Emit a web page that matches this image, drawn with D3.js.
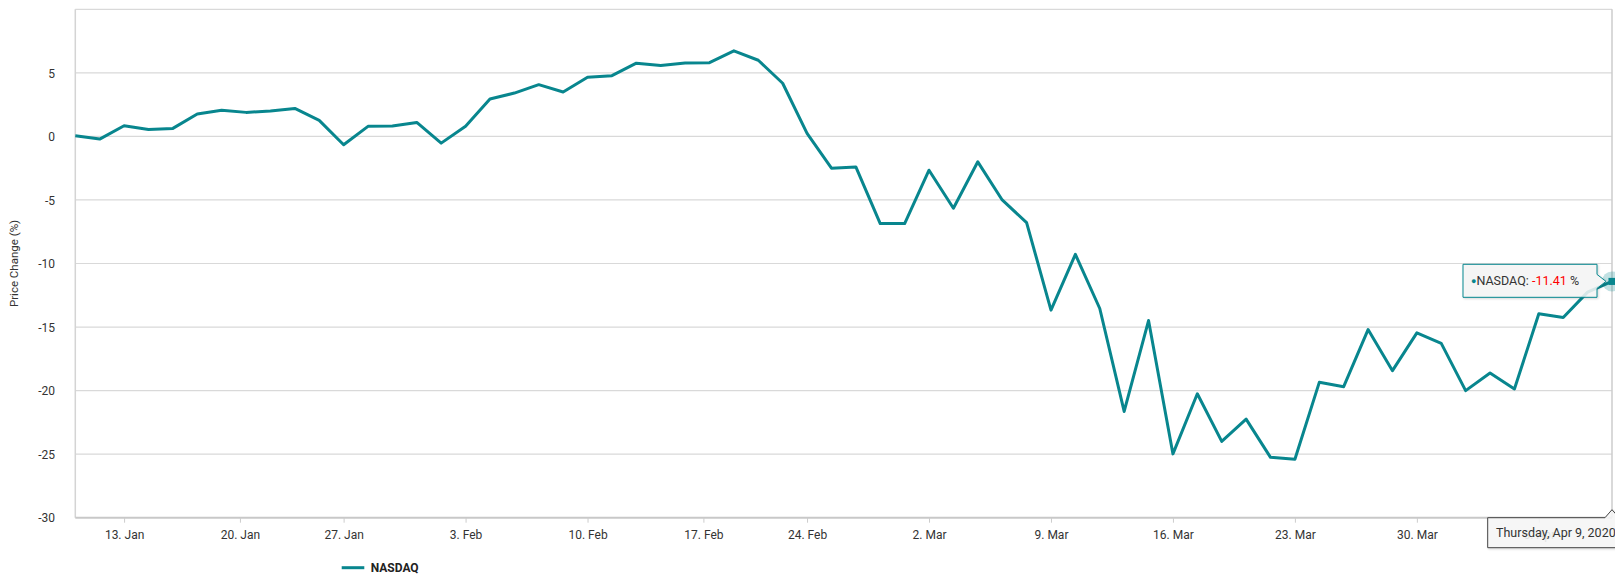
<!DOCTYPE html>
<html>
<head>
<meta charset="utf-8">
<script src="https://cdn.jsdelivr.net/npm/d3@7"></script>
<style>
  html, body { margin: 0; padding: 0; background: #fff; }
  svg { display: block; font-family: Roboto, "Noto Sans", Arial, sans-serif; }
</style>
</head>
<body>
<svg id="chart" width="1615" height="585"></svg>
<script>
// ---- data ----
const seriesName = "NASDAQ";
const tradingDates = [
  "2020-01-09","2020-01-10",
  "2020-01-13","2020-01-14","2020-01-15","2020-01-16","2020-01-17",
  "2020-01-21","2020-01-22","2020-01-23","2020-01-24",
  "2020-01-27","2020-01-28","2020-01-29","2020-01-30","2020-01-31",
  "2020-02-03","2020-02-04","2020-02-05","2020-02-06","2020-02-07",
  "2020-02-10","2020-02-11","2020-02-12","2020-02-13","2020-02-14",
  "2020-02-18","2020-02-19","2020-02-20","2020-02-21",
  "2020-02-24","2020-02-25","2020-02-26","2020-02-27","2020-02-28",
  "2020-03-02","2020-03-03","2020-03-04","2020-03-05","2020-03-06",
  "2020-03-09","2020-03-10","2020-03-11","2020-03-12","2020-03-13",
  "2020-03-16","2020-03-17","2020-03-18","2020-03-19","2020-03-20",
  "2020-03-23","2020-03-24","2020-03-25","2020-03-26","2020-03-27",
  "2020-03-30","2020-03-31","2020-04-01","2020-04-02","2020-04-03",
  "2020-04-06","2020-04-07","2020-04-08","2020-04-09"
];
const priceChange = [
  0.05, -0.21,
  0.84, 0.55, 0.63, 1.76, 2.05,
  1.89, 2.00, 2.20, 1.26,
  -0.66, 0.79, 0.81, 1.10, -0.53,
  0.79, 2.94, 3.41, 4.07, 3.49,
  4.65, 4.78, 5.76, 5.57, 5.78,
  5.80, 6.73, 5.99, 4.18,
  0.24, -2.50, -2.40, -6.86, -6.86,
  -2.66, -5.65, -2.00, -5.00, -6.78,
  -13.67, -9.28, -13.54, -21.64, -14.49,
  -24.98, -20.25, -24.00, -22.24, -25.25,
  -25.40, -19.35, -19.69, -15.20, -18.43,
  -15.46, -16.28, -20.00, -18.61, -19.87,
  -13.96, -14.25, -12.25, -11.41
];
const xTickDates = ["2020-01-13","2020-01-20","2020-01-27","2020-02-03","2020-02-10","2020-02-17",
  "2020-02-24","2020-03-02","2020-03-09","2020-03-16","2020-03-23","2020-03-30","2020-04-06"];
const xTickLabels = ["13. Jan","20. Jan","27. Jan","3. Feb","10. Feb","17. Feb",
  "24. Feb","2. Mar","9. Mar","16. Mar","23. Mar","30. Mar","6. Apr"];
const yTicks = [-30, -25, -20, -15, -10, -5, 0, 5];
const yGrid = [-25, -20, -15, -10, -5, 0, 5, 10];
const yDomain = [-30, 10];
const yTitle = "Price Change (%)";

// ---- layout ----
const plot = { left: 75.3, right: 1612, top: 9.3, bottom: 517.7 };
const teal = "#08868e";
const svg = d3.select("#chart");

const parse = d3.timeParse("%Y-%m-%d");
const dates = tradingDates.map(parse);
const data = dates.map((d, i) => ({ date: d, idx: i, value: priceChange[i] }));

const x = d3.scaleLinear().domain([0, dates.length - 1]).range([plot.left, plot.right]);
const y = d3.scaleLinear().domain(yDomain).range([plot.bottom, plot.top]);

// ordinal position of any date (interpolated between trading days)
function ordinalIndex(dt) {
  const t = dt.getTime();
  for (let i = 0; i < dates.length - 1; i++) {
    const a = dates[i].getTime(), b = dates[i + 1].getTime();
    if (t >= a && t <= b) return i + (t - a) / (b - a);
  }
  return dates.length - 1;
}
const tickIdx = xTickDates.map(s => ordinalIndex(parse(s)));
const hyphen = s => String(s).replace(/\u2212/g, "-");

// grid lines
svg.append("g").selectAll("line").data(yGrid).join("line")
  .attr("x1", plot.left).attr("x2", plot.right)
  .attr("y1", d => y(d)).attr("y2", d => y(d))
  .attr("stroke", "#d9d9d9").attr("stroke-width", 1.2);

// left border
svg.append("line").attr("x1", plot.left).attr("x2", plot.left)
  .attr("y1", plot.top).attr("y2", plot.bottom)
  .attr("stroke", "#d4d4d4").attr("stroke-width", 1.5);

// y axis labels
const yAxis = d3.axisLeft(y).tickValues(yTicks).tickSize(0).tickPadding(0)
  .tickFormat(d => hyphen(d3.format("d")(d)));
const gy = svg.append("g").attr("transform", `translate(55,0)`).call(yAxis);
gy.select(".domain").remove();
gy.selectAll("text").attr("font-size", 12).attr("fill", "#333")
  .attr("font-family", "Roboto, sans-serif").attr("dy", "0.35em");

// y title
svg.append("text")
  .attr("transform", `translate(18,${(plot.top + plot.bottom) / 2}) rotate(-90)`)
  .attr("text-anchor", "middle").attr("font-size", 11.5).attr("fill", "#333")
  .text(yTitle);

// x axis
const xAxis = d3.axisBottom(x).tickValues(tickIdx).tickSize(5).tickPadding(8)
  .tickFormat((d, i) => xTickLabels[i]);
const gx = svg.append("g").attr("transform", `translate(0,${plot.bottom})`).call(xAxis);
gx.select(".domain").attr("d", `M${plot.left},0H${plot.right}`)
  .attr("stroke", "#c8c8c8").attr("stroke-width", 2);
gx.selectAll(".tick line").attr("stroke", "#cccccc");
gx.selectAll("text").attr("font-size", 12).attr("fill", "#333")
  .attr("font-family", "Roboto, sans-serif");

// crosshair at hovered point
const last = data[data.length - 1];
svg.append("line").attr("x1", x(last.idx)).attr("x2", x(last.idx))
  .attr("y1", plot.top).attr("y2", plot.bottom)
  .attr("stroke", "#cccccc").attr("stroke-width", 1.5);

// line
const line = d3.line().x(d => x(d.idx)).y(d => y(d.value));
svg.append("path").datum(data).attr("d", line)
  .attr("fill", "none").attr("stroke", teal).attr("stroke-width", 3)
  .attr("stroke-linejoin", "round");

// hover halo + marker
const px = x(last.idx), py = y(last.value);
svg.append("circle").attr("cx", px).attr("cy", py).attr("r", 10)
  .attr("fill", teal).attr("fill-opacity", 0.25);
svg.append("path").attr("d", d3.symbol(d3.symbolSquare, 50)())
  .attr("transform", `translate(${px},${py})`).attr("fill", teal);

// top tooltip
const tt = { l: 1463, r: 1597, t: 264.3, b: 297.3 };
const defs = svg.append("defs");
const f = defs.append("filter").attr("id", "shadow").attr("x", "-10%").attr("y", "-10%")
  .attr("width", "130%").attr("height", "150%");
f.append("feDropShadow").attr("dx", 1).attr("dy", 1).attr("stdDeviation", 1)
  .attr("flood-color", "#000").attr("flood-opacity", 0.18);

svg.append("path")
  .attr("d", `M${tt.l},${tt.t}H${tt.r}V${py - 7}L${px - 6},${py}L${tt.r},${py + 7}V${tt.b}H${tt.l}Z`)
  .attr("fill", "#f7f7f7").attr("fill-opacity", 0.85)
  .attr("stroke", teal).attr("stroke-width", 1).attr("filter", "url(#shadow)");
const ttText = svg.append("text").attr("x", 1471).attr("y", 284.5)
  .attr("font-size", 12.5).attr("fill", "#333");
ttText.append("tspan").attr("fill", teal).attr("font-size", 9).attr("dy", -1).text("●");
ttText.append("tspan").attr("dy", 1).text(seriesName + ": ");
ttText.append("tspan").attr("fill", "#ff0000").text(hyphen(d3.format(".2f")(last.value)));
ttText.append("tspan").text(" %");

// bottom crosshair date label
const bt = { l: 1487.7, t: plot.bottom, b: 547.7 };
svg.append("path")
  .attr("d", `M${bt.l},${bt.t}H${px - 7}L${px},${bt.t - 8}L${px + 7},${bt.t}H1640V${bt.b}H${bt.l}Z`)
  .attr("fill", "#f7f7f7").attr("fill-opacity", 0.88)
  .attr("stroke", "#444").attr("stroke-width", 1).attr("filter", "url(#shadow)");
svg.append("text").attr("x", 1496).attr("y", 536.5)
  .attr("font-size", 12.5).attr("fill", "#333")
  .text(d3.timeFormat("%A, %b %-d, %Y")(last.date));

// legend
svg.append("line").attr("x1", 341.7).attr("x2", 364.3).attr("y1", 567.7).attr("y2", 567.7)
  .attr("stroke", teal).attr("stroke-width", 3);
svg.append("text").attr("x", 370.7).attr("y", 571.5).attr("font-size", 12)
  .attr("font-weight", "bold").attr("fill", "#222").text(seriesName);
</script>
</body>
</html>
